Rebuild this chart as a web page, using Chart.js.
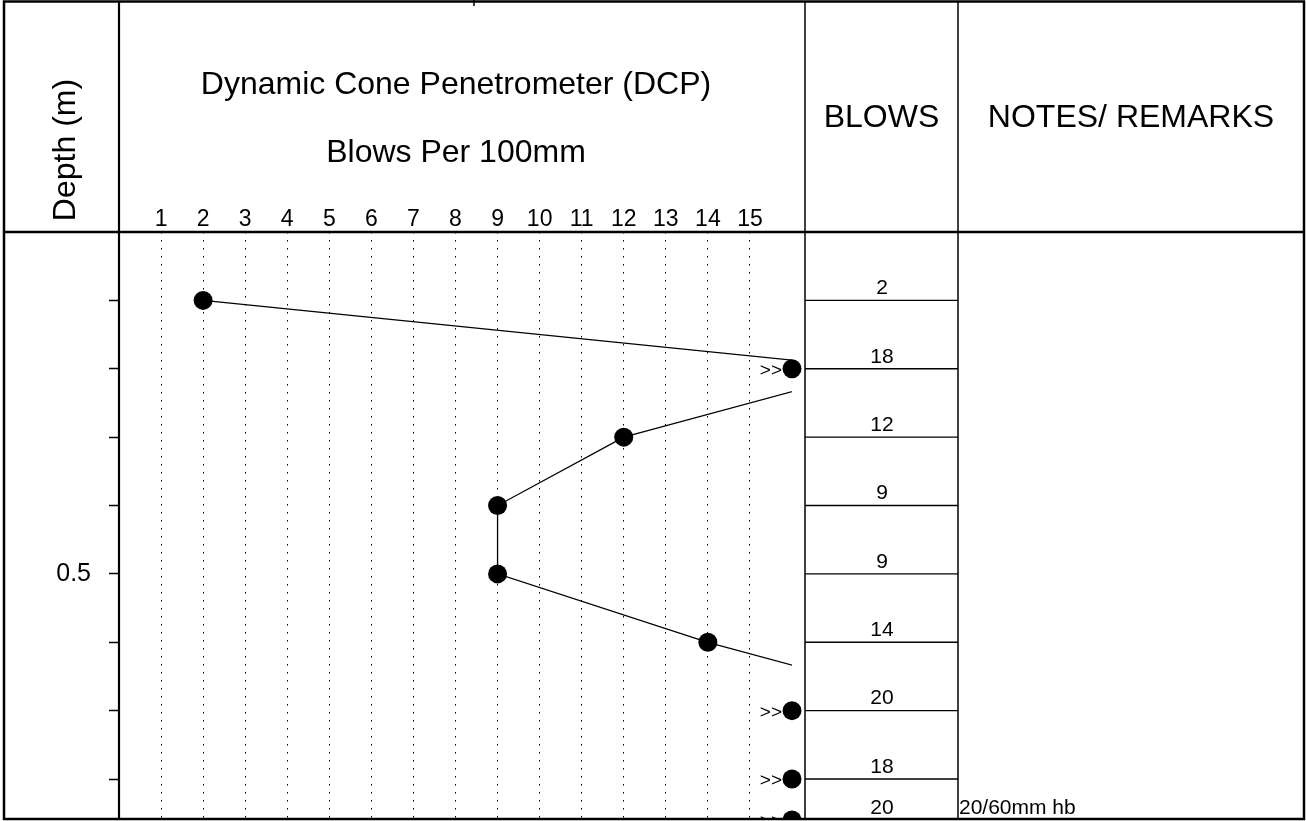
<!DOCTYPE html>
<html>
<head>
<meta charset="utf-8">
<title>DCP log</title>
<script src="https://cdn.jsdelivr.net/npm/chart.js@4.4.1/dist/chart.umd.min.js"></script>
<style>
  html, body { margin: 0; padding: 0; background: #fff; overflow: hidden; }
  canvas { display: block; }
</style>
</head>
<body>
<canvas id="dcpChart" width="1306" height="821"></canvas>
<script>
const depths = [0.1, 0.2, 0.3, 0.4, 0.5, 0.6, 0.7, 0.8, 0.86];
const blows = [2, 18, 12, 9, 9, 14, 20, 18, 20];
const notes = ['', '', '', '', '', '', '', '', '20/60mm hb'];
const blowTicks = [1, 2, 3, 4, 5, 6, 7, 8, 9, 10, 11, 12, 13, 14, 15];
const depthTicks = [0.1, 0.2, 0.3, 0.4, 0.5, 0.6, 0.7, 0.8];
const depthLabels = ['', '', '', '', '0.5', '', '', ''];
const blowsMax = 16;
const depthMax = 0.857;

const FONT = '"Liberation Sans", Arial, Helvetica, sans-serif';

// table columns (pixels)
const colBlows = 805;
const colNotes = 958;

function noPadding(s) {
  s.paddingLeft = 0;
  s.paddingRight = 0;
  s.paddingTop = 0;
  s.paddingBottom = 0;
}

const frame = {
  id: 'frame',
  afterDraw(chart) {
    const ctx = chart.ctx;
    const area = chart.chartArea;
    const xs = chart.scales.x;
    const ys = chart.scales.y;
    ctx.save();
    ctx.strokeStyle = '#000';
    ctx.fillStyle = '#000';

    // outer box + header line
    ctx.lineWidth = 2.5;
    ctx.strokeRect(4, 1.5, 1300, 817.5);
    ctx.beginPath();
    ctx.moveTo(4, area.top);
    ctx.lineTo(1304, area.top);
    ctx.stroke();

    // column dividers
    ctx.lineWidth = 2.2;
    ctx.beginPath();
    ctx.moveTo(area.left, 1.5);
    ctx.lineTo(area.left, 819);
    ctx.stroke();
    ctx.lineWidth = 1.5;
    ctx.beginPath();
    ctx.moveTo(colBlows, 1.5);
    ctx.lineTo(colBlows, 819);
    ctx.moveTo(colNotes, 1.5);
    ctx.lineTo(colNotes, 819);
    ctx.moveTo(474, 0);
    ctx.lineTo(474, 6);
    ctx.stroke();

    // header texts
    ctx.textBaseline = 'middle';
    ctx.textAlign = 'center';
    ctx.font = '32px ' + FONT;
    ctx.fillText('Dynamic Cone Penetrometer (DCP)', 456, 85);
    ctx.fillText('Blows Per 100mm', 456, 153);
    ctx.fillText('BLOWS', (colBlows + colNotes) / 2, 118);
    ctx.fillText('NOTES/ REMARKS', (colNotes + 1304) / 2, 118);
    ctx.save();
    ctx.translate(66, 150);
    ctx.rotate(-Math.PI / 2);
    ctx.fillText('Depth (m)', 0, 0);
    ctx.restore();

    // blows column rows, notes and ">>" markers
    ctx.lineWidth = 1.3;
    depths.forEach((d, i) => {
      const yy = ys.getPixelForValue(d);
      if (yy <= area.bottom) {
        ctx.beginPath();
        ctx.moveTo(colBlows, yy);
        ctx.lineTo(colNotes, yy);
        ctx.stroke();
      }
      ctx.textAlign = 'center';
      ctx.font = '21px ' + FONT;
      ctx.fillText(String(blows[i]), (colBlows + colNotes) / 2 + 0.5, yy - 12);
      if (notes[i]) {
        ctx.textAlign = 'left';
        ctx.fillText(notes[i], colNotes + 1, yy - 12);
      }
      if (blows[i] > blowsMax) {
        ctx.save();
        ctx.beginPath();
        ctx.rect(area.left, area.top, area.right - area.left, area.bottom - area.top);
        ctx.clip();
        ctx.textAlign = 'right';
        ctx.font = '19px ' + FONT;
        ctx.fillText('>>', xs.getPixelForValue(blowsMax) - 10, yy + 2);
        ctx.restore();
      }
    });
    ctx.restore();
  }
};

const ctx = document.getElementById('dcpChart').getContext('2d');

new Chart(ctx, {
  type: 'scatter',
  data: {
    datasets: [{
      label: 'Blows',
      data: depths.map((d, i) => ({ x: blows[i], y: d })),
      showLine: true,
      borderColor: '#000',
      borderWidth: 1.3,
      pointRadius: 0,
      fill: false,
      tension: 0,
      order: 2
    }, {
      label: 'Points',
      data: depths.map((d, i) => ({ x: Math.min(blows[i], blowsMax), y: d })),
      backgroundColor: '#000',
      borderWidth: 0,
      pointRadius: 9.5,
      clip: { left: 20, top: 20, right: 20, bottom: 0 },
      order: 1
    }]
  },
  options: {
    responsive: false,
    animation: false,
    events: [],
    layout: { autoPadding: false, padding: { left: 0, top: 0, right: 514, bottom: 3 } },
    plugins: {
      legend: { display: false },
      tooltip: { enabled: false }
    },
    scales: {
      x: {
        type: 'linear',
        position: 'top',
        min: 0,
        max: blowsMax,
        afterBuildTicks: s => { s.ticks = blowTicks.map(v => ({ value: v })); },
        afterFit: s => {
          s.height = 232;
          noPadding(s);
        },
        ticks: {
          color: '#000',
          font: { family: FONT, size: 23 },
          padding: -1,
          maxRotation: 0,
          autoSkip: false
        },
        grid: { drawTicks: false, color: '#000', lineWidth: 1, borderDash: [1.5, 6.5] },
        border: { display: false, dash: [1.5, 6.5] }
      },
      y: {
        type: 'linear',
        position: 'left',
        reverse: true,
        min: 0,
        max: depthMax,
        afterBuildTicks: s => { s.ticks = depthTicks.map(v => ({ value: v })); },
        afterFit: s => {
          s.width = 119;
          noPadding(s);
        },
        ticks: {
          color: '#000',
          font: { family: FONT, size: 25 },
          padding: 18,
          autoSkip: false,
          callback: (v, i) => depthLabels[i]
        },
        grid: { drawOnChartArea: false, drawTicks: true, tickLength: 10, tickColor: '#000', tickWidth: 1.5 },
        border: { display: false }
      }
    }
  },
  plugins: [frame]
});
</script>
</body>
</html>
